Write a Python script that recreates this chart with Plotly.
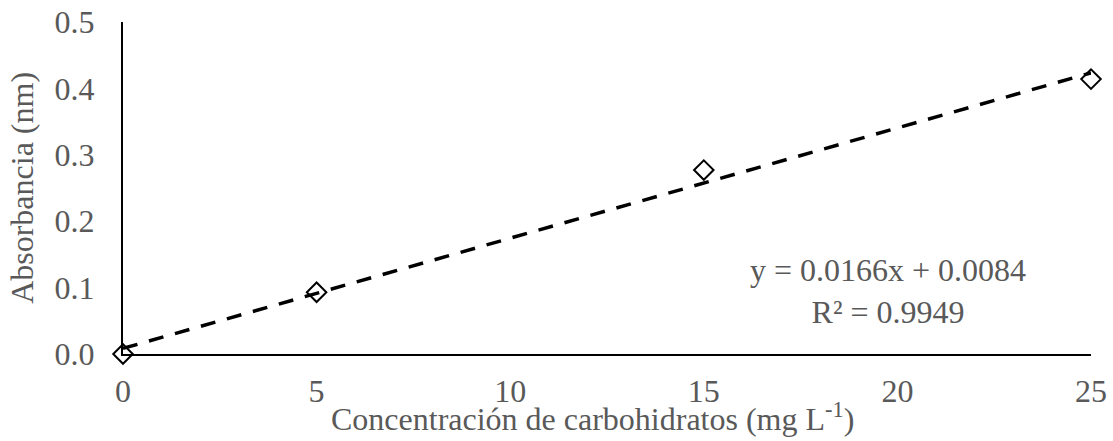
import plotly.graph_objects as go

# Calibration data: carbohydrate concentration vs absorbance
concentracion = [0, 5, 15, 25]
absorbancia = [0.000, 0.093, 0.277, 0.414]

# Linear fit reported on the chart
pendiente = 0.0166
intercepto = 0.0084
r2 = 0.9949

x_tick_vals = [0, 5, 10, 15, 20, 25]
y_tick_vals = [0.0, 0.1, 0.2, 0.3, 0.4, 0.5]

gris = "#595959"
fuente = "Liberation Serif, Times New Roman, serif"
tam = 32

x_fit = [min(concentracion), max(concentracion)]
y_fit = [pendiente * x + intercepto for x in x_fit]

fig = go.Figure()
fig.add_trace(go.Scatter(
    x=x_fit, y=y_fit, mode="lines",
    line=dict(color="black", width=3.5, dash="15px,12px"),
    hoverinfo="skip", showlegend=False,
))
fig.add_trace(go.Scatter(
    x=concentracion, y=absorbancia, mode="markers",
    marker=dict(symbol="diamond-open", size=15, color="black",
                line=dict(color="black", width=2)),
    cliponaxis=False, showlegend=False,
))

# Regression equation and R²
fig.add_annotation(
    x=0.79, y=0.19, xref="paper", yref="paper",
    xanchor="center", yanchor="middle",
    text=f"y = {pendiente}x + {intercepto}<br>R² = {r2}",
    showarrow=False, align="center",
    font=dict(family=fuente, size=tam, color=gris),
)

# Axis titles
fig.add_annotation(
    x=-0.1045, y=0.5, xref="paper", yref="paper",
    xanchor="center", yanchor="middle", textangle=-90,
    text="Absorbancia (nm)", showarrow=False,
    font=dict(family=fuente, size=tam, color=gris),
)
fig.add_annotation(
    x=0.4855, y=-0.19, xref="paper", yref="paper",
    xanchor="center", yanchor="middle",
    text="Concentración de carbohidratos (mg L<sup>-1</sup>)", showarrow=False,
    font=dict(family=fuente, size=tam, color=gris),
)

fig.update_layout(
    width=1113, height=441,
    margin=dict(l=123, r=22, t=22, b=87),
    plot_bgcolor="white", paper_bgcolor="white",
    font=dict(family=fuente, size=tam, color=gris),
    xaxis=dict(
        range=[0, 25], tickvals=x_tick_vals, automargin=False,
        showline=True, linecolor="black", linewidth=2,
        showgrid=False, zeroline=False, ticks="",
        ticklabelstandoff=8,
        tickfont=dict(family=fuente, size=tam, color=gris),
    ),
    yaxis=dict(
        range=[0, 0.5], tickvals=y_tick_vals, tickformat=".1f", automargin=False,
        showline=True, linecolor="black", linewidth=2,
        showgrid=False, zeroline=False, ticks="",
        ticklabelstandoff=20,
        tickfont=dict(family=fuente, size=tam, color=gris),
    ),
)

fig.write_html("out.html")
